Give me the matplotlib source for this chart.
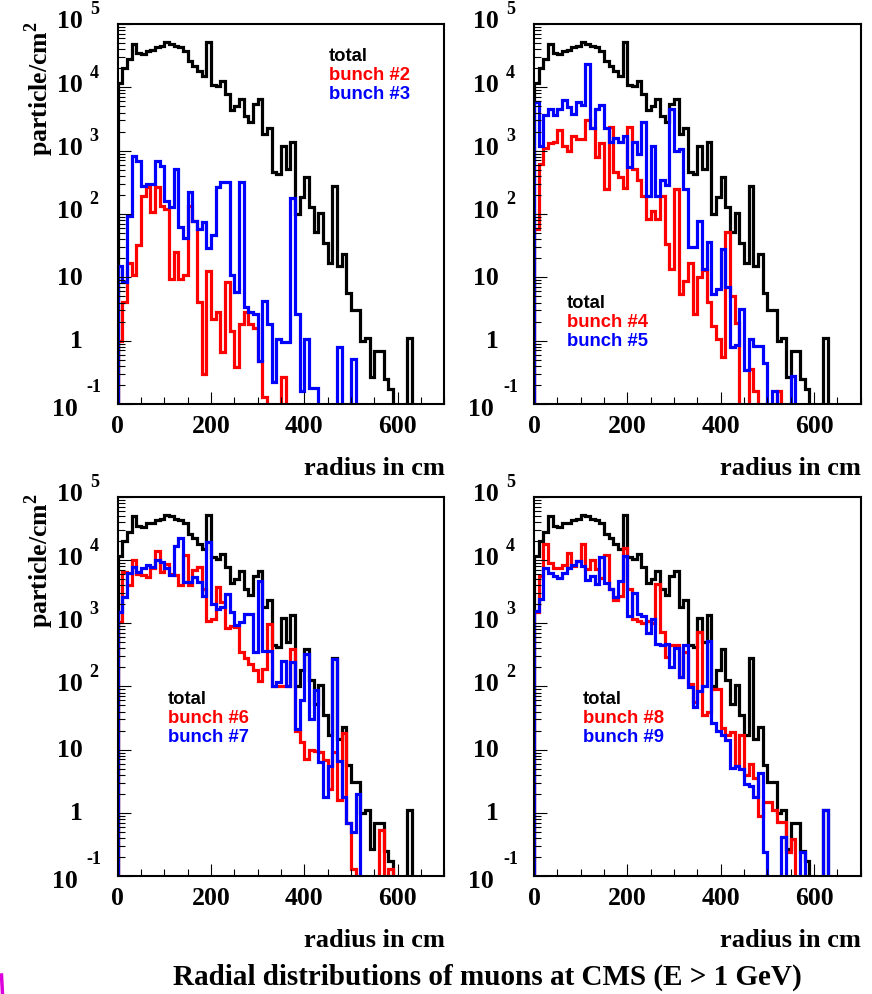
import numpy as np
import matplotlib
matplotlib.use("Agg")
import matplotlib.pyplot as plt
import matplotlib.transforms as mtransforms
from matplotlib.lines import Line2D
from matplotlib.ticker import MultipleLocator, LogLocator, NullFormatter

# 10 cm radial bins, 0 - 700 cm
bin_edges = np.arange(0, 710, 10)

# particle/cm^2 per bin, all bunches summed
total = [1.15e4, 2.0e4, 2.8e4, 4.9e4, 3.5e4, 3.3e4, 3.8e4, 3.9e4, 4.3e4, 4.5e4,
         5.2e4, 4.9e4, 4.5e4, 4.3e4, 3.8e4, 2.6e4, 2.2e4, 1.8e4, 1.5e4, 5.2e4,
         1.1e4, 1.05e4, 1.25e4, 7.8e3, 4.4e3, 5.1e3, 6.6e3, 3.5e3, 2.8e3, 5.5e3,
         6.6e3, 1.8e3, 2.3e3, 460, 420, 1.2e3, 510, 1.35e3, 100, 185,
         390, 127, 52, 105, 35, 17, 280, 15, 23, 5.7,
         3.1, 3.1, 1.0, 1.1, 0.27, 0.68, 0.68, 0.25, 0.17, 0,
         0, 0, 1.1, 0, 0, 0, 0, 0, 0, 0]

bunch_2 = [1.0, 4.1, 17, 11, 32, 195, 265, 107, 265, 135,
           120, 9.4, 25, 9.4, 11, 135, 78, 4.1, 0.30, 12.6,
           2.2, 2.8, 0.66, 8.3, 1.4, 0.38, 1.8, 2.8, 1.8, 1.6,
           0.48, 0.13, 0, 0, 0, 0.27, 0, 0, 0, 0,
           0, 0, 0, 0, 0, 0, 0, 0, 0, 0,
           0, 0, 0, 0, 0, 0, 0, 0, 0, 0,
           0, 0, 0, 0, 0, 0, 0, 0, 0, 0]

bunch_3 = [15, 8.3, 93, 830, 690, 280, 300, 300, 690, 580,
           160, 128, 510, 62, 41, 220, 78, 58, 74, 29,
           46, 265, 316, 316, 10.7, 5.8, 316, 3.4, 2.8, 2.6,
           0.48, 4.3, 1.8, 0.22, 1.07, 0.94, 0.94, 180, 2.6, 0.16,
           1.07, 0.18, 0.18, 0, 0, 0, 0, 0.79, 0, 0,
           0.51, 0, 0, 0, 0, 0, 0, 0, 0, 0,
           0, 0, 0, 0, 0, 0, 0, 0, 0, 0]

bunch_4 = [58, 610, 1.1e3, 1.3e3, 1.35e3, 2.1e3, 1.2e3, 1.0e3, 1.7e3, 1.5e3,
           1.5e3, 3.1e3, 2.3e3, 780, 1.3e3, 250, 2.4e3, 460, 380, 260,
           2.4e3, 520, 340, 195, 83, 112, 83, 195, 34, 13.5,
           245, 5.5, 8.9, 17, 2.6, 10, 13, 4.1, 1.7, 1.07,
           0.55, 51, 5.1, 1.9, 0, 0, 0.36, 0.16, 0, 0,
           0, 0, 0.16, 0, 0, 0, 0, 0, 0, 0,
           0, 0, 0, 0, 0, 0, 0, 0, 0, 0]

bunch_5 = [5.8e3, 1.2e3, 3.6e3, 4.6e3, 3.6e3, 4.6e3, 6.2e3, 4.8e3, 3.8e3, 5.8e3,
           5.2e3, 2.3e4, 2.3e3, 4.6e3, 5.2e3, 2.3e3, 1.35e3, 1.6e3, 1.35e3, 1.7e3,
           550, 1.35e3, 890, 2.8e3, 195, 1.2e3, 195, 350, 290, 4.6e3,
           1.0e3, 1.07e3, 250, 30, 30, 78, 13.5, 36, 5.5, 6.6,
           28, 7.0, 0.78, 0.85, 3.2, 0.34, 1.07, 0.83, 0.83, 0.45,
           0, 0.16, 0, 0, 0, 0.28, 0, 0, 0, 0,
           0, 0, 0, 0, 0, 0, 0, 0, 0, 0]

bunch_6 = [1.05e3, 6.5e3, 4.0e3, 1.0e4, 6.1e3, 5.8e3, 5.4e3, 7.4e3, 1.4e4, 6.5e3,
           8.8e3, 6.1e3, 5.8e3, 4.0e3, 1.2e4, 4.0e3, 6.9e3, 7.8e3, 3.5e3, 1.1e3,
           1.15e3, 3.8e3, 2.2e3, 830, 900, 870, 350, 280, 230, 180,
           120, 190, 980, 100, 100, 100, 100, 390, 20, 13,
           7.1, 10, 9.5, 9.1, 6.8, 2.4, 9.1, 1.6, 18, 0.68,
           0.13, 0, 0, 0, 0, 0, 0.53, 0, 0.13, 0,
           0, 0, 0, 0, 0, 0, 0, 0, 0, 0]

bunch_7 = [1.5e3, 2.6e3, 6.2e3, 7.7e3, 6.5e3, 7.4e3, 8.3e3, 7.7e3, 1.0e4, 9.4e3,
           7.4e3, 5.8e3, 1.7e4, 2.2e4, 4.5e3, 4.5e3, 5.4e3, 4.5e3, 2.7e3, 1.95e4,
           2.0e3, 1.7e3, 1.8e3, 2.9e3, 1.5e3, 930, 1.05e3, 1.4e3, 1.4e3, 350,
           4.6e3, 370, 370, 100, 117, 255, 100, 240, 21, 60,
           330, 31, 87, 6.3, 1.8, 5.6, 275, 6.7, 1.8, 0.7,
           0.49, 2.0, 0, 0, 0, 0, 0, 0, 0, 0,
           0, 0, 0, 0, 0, 0, 0, 0, 0, 0]

bunch_8 = [1.5e3, 5.6e3, 1.8e4, 9.1e3, 7.6e3, 7.6e3, 8.5e3, 1.3e4, 8.1e3, 9.6e3,
           1.8e4, 7.1e3, 1.0e4, 7.1e3, 5.3e3, 1.2e4, 3.5e3, 2.3e3, 2.7e3, 1.55e4,
           3.5e3, 1.15e3, 1.1e3, 1.0e3, 1.1e3, 1.0e3, 4.2e3, 720, 290, 450,
           450, 140, 350, 110, 56, 720, 35, 40, 92, 92,
           22, 17, 19, 5.6, 17, 3.9, 5.9, 3.5, 0.9, 1.5,
           1.5, 1.1, 0.71, 0.71, 0.24, 0.39, 0, 0, 0, 0,
           0, 0, 0, 0, 0, 0, 0, 0, 0, 0]

bunch_9 = [1.55e3, 2.4e3, 7.6e3, 6.3e3, 5.6e3, 5.3e3, 6.3e3, 7.6e3, 8.5e3, 9.6e3,
           8.1e3, 4.9e3, 5.6e3, 4.2e3, 1.1e4, 4.4e3, 3.5e3, 2.6e3, 4.7e3, 1.15e4,
           1.3e3, 3.0e3, 1.4e3, 1.3e3, 710, 1.15e3, 470, 450, 470, 200,
           400, 140, 450, 98, 47, 85, 100, 530, 26, 20,
           17, 14, 5.2, 5.6, 5.0, 2.9, 2.7, 1.8, 4.2, 0.24,
           0, 0, 0, 0.41, 0, 0, 0, 0.24, 0, 0,
           0, 0, 1.1, 0, 0, 0, 0, 0, 0, 0]

x_ticks = [0, 200, 400, 600]
decades = [5, 4, 3, 2, 1, 0, -1]

SERIF = "Liberation Serif"
SANS = "Liberation Sans"
FLOOR = 1e-3  # empty bins drop below the visible range

plt.rcParams["mathtext.fontset"] = "custom"
plt.rcParams["mathtext.rm"] = "Liberation Serif:bold"
plt.rcParams["mathtext.bf"] = "Liberation Serif:bold"


def label_decades(ax):
    """Writes the 10^n labels to the left of a log axis, ROOT style."""
    fig = ax.figure
    base = mtransforms.blended_transform_factory(ax.transAxes, ax.transData)
    for n in decades:
        y = 10.0 ** n
        if n == 0:
            main, sup = "1", ""
        elif n == 1:
            main, sup = "10", ""
        else:
            main, sup = "10", str(n)
        if n == -1:
            mdx, mdy, sdx, sdy = -40, -5, -31, 17
        elif sup:
            mdx, mdy, sdx, sdy = -35, 3, -28, 15
        else:
            mdx, mdy, sdx, sdy = -35, 0, 0, 0
        tr = mtransforms.offset_copy(base, fig=fig, x=mdx, y=mdy, units="dots")
        ax.text(0, y, main, transform=tr, ha="right", va="center",
                family=SERIF, weight="bold", fontsize=18.5, clip_on=False)
        if sup:
            tr = mtransforms.offset_copy(base, fig=fig, x=sdx, y=sdy, units="dots")
            ax.text(0, y, sup, transform=tr, ha="left", va="center",
                    family=SERIF, weight="bold", fontsize=13, clip_on=False)


def draw_panel(ax, red, blue, names, legend_xy):
    """One radial distribution: total in black plus two single bunches."""
    for values, color in [(total, "black"), (red, "#ff0000"), (blue, "#0000ff")]:
        v = np.clip(np.asarray(values, dtype=float), FLOOR, None)
        ax.stairs(v, bin_edges, baseline=FLOOR, color=color, lw=2.3)

    ax.set_yscale("log")
    ax.set_xlim(0, 700)
    ax.set_ylim(0.1, 1e5)

    ax.set_xticks(x_ticks)
    ax.set_xticklabels([str(t) for t in x_ticks], family=SERIF,
                       weight="bold", fontsize=18.5)
    ax.xaxis.set_minor_locator(MultipleLocator(50))
    ax.yaxis.set_major_locator(LogLocator(base=10, numticks=10))
    ax.yaxis.set_minor_locator(LogLocator(base=10, subs=np.arange(2, 10), numticks=20))
    ax.yaxis.set_minor_formatter(NullFormatter())
    ax.set_yticklabels([])
    ax.tick_params(axis="x", which="major", direction="in", length=9,
                   width=0.8, pad=7, top=False)
    ax.tick_params(axis="x", which="minor", direction="in", length=5,
                   width=0.8, top=False)
    ax.tick_params(axis="y", which="major", direction="in", length=9,
                   width=0.8, right=False, labelleft=False)
    ax.tick_params(axis="y", which="minor", direction="in", length=5,
                   width=0.8, right=False)
    for s in ["top", "right", "bottom", "left"]:
        ax.spines[s].set_linewidth(1.5)
    label_decades(ax)

    lx, ly = legend_xy
    for i, (text, color) in enumerate(zip(["total"] + names,
                                          ["black", "#ff0000", "#0000ff"])):
        ax.text(lx, ly - 0.05 * i, text, transform=ax.transAxes, color=color,
                family=SANS, weight="bold", fontsize=13.3, ha="left", va="center")

    ax.text(1.0, -0.168, "radius in cm", transform=ax.transAxes, ha="right",
            va="center", family=SERIF, weight="bold", fontsize=19)


fig = plt.figure(figsize=(8.72, 9.95), dpi=100)
fig.patch.set_facecolor("white")

axes_rects = [[0.135, 0.593, 0.3747, 0.3819],
              [0.6124, 0.593, 0.3747, 0.3819],
              [0.135, 0.1186, 0.3747, 0.381],
              [0.6124, 0.1186, 0.3747, 0.381]]
legend_spots = [(0.647, 0.916), (0.101, 0.268), (0.154, 0.467), (0.150, 0.467)]
pairs = [(bunch_2, bunch_3, ["bunch #2", "bunch #3"]),
         (bunch_4, bunch_5, ["bunch #4", "bunch #5"]),
         (bunch_6, bunch_7, ["bunch #6", "bunch #7"]),
         (bunch_8, bunch_9, ["bunch #8", "bunch #9"])]

for rect, (red, blue, names), spot in zip(axes_rects, pairs, legend_spots):
    ax = fig.add_axes(rect)
    draw_panel(ax, red, blue, names, spot)

# y titles, one per row
for top in [21, 493]:
    fig.text(39 / 872, 1 - top / 995, r"particle/cm$^{2}$", rotation=90,
             ha="center", va="top", family=SERIF, weight="bold", fontsize=18.5)

fig.text(487 / 872, 1 - 977 / 995,
         "Radial distributions of muons at CMS (E > 1 GeV)",
         ha="center", va="center", family=SERIF, weight="bold", fontsize=21)

# stray bracket in the corner
fig.add_artist(Line2D([1.5 / 872, 2.5 / 872], [1 - 976 / 995, 0.0],
                      color="#dd00dd", lw=2.5, transform=fig.transFigure))

fig.savefig("out.png", dpi=100, facecolor="white")
